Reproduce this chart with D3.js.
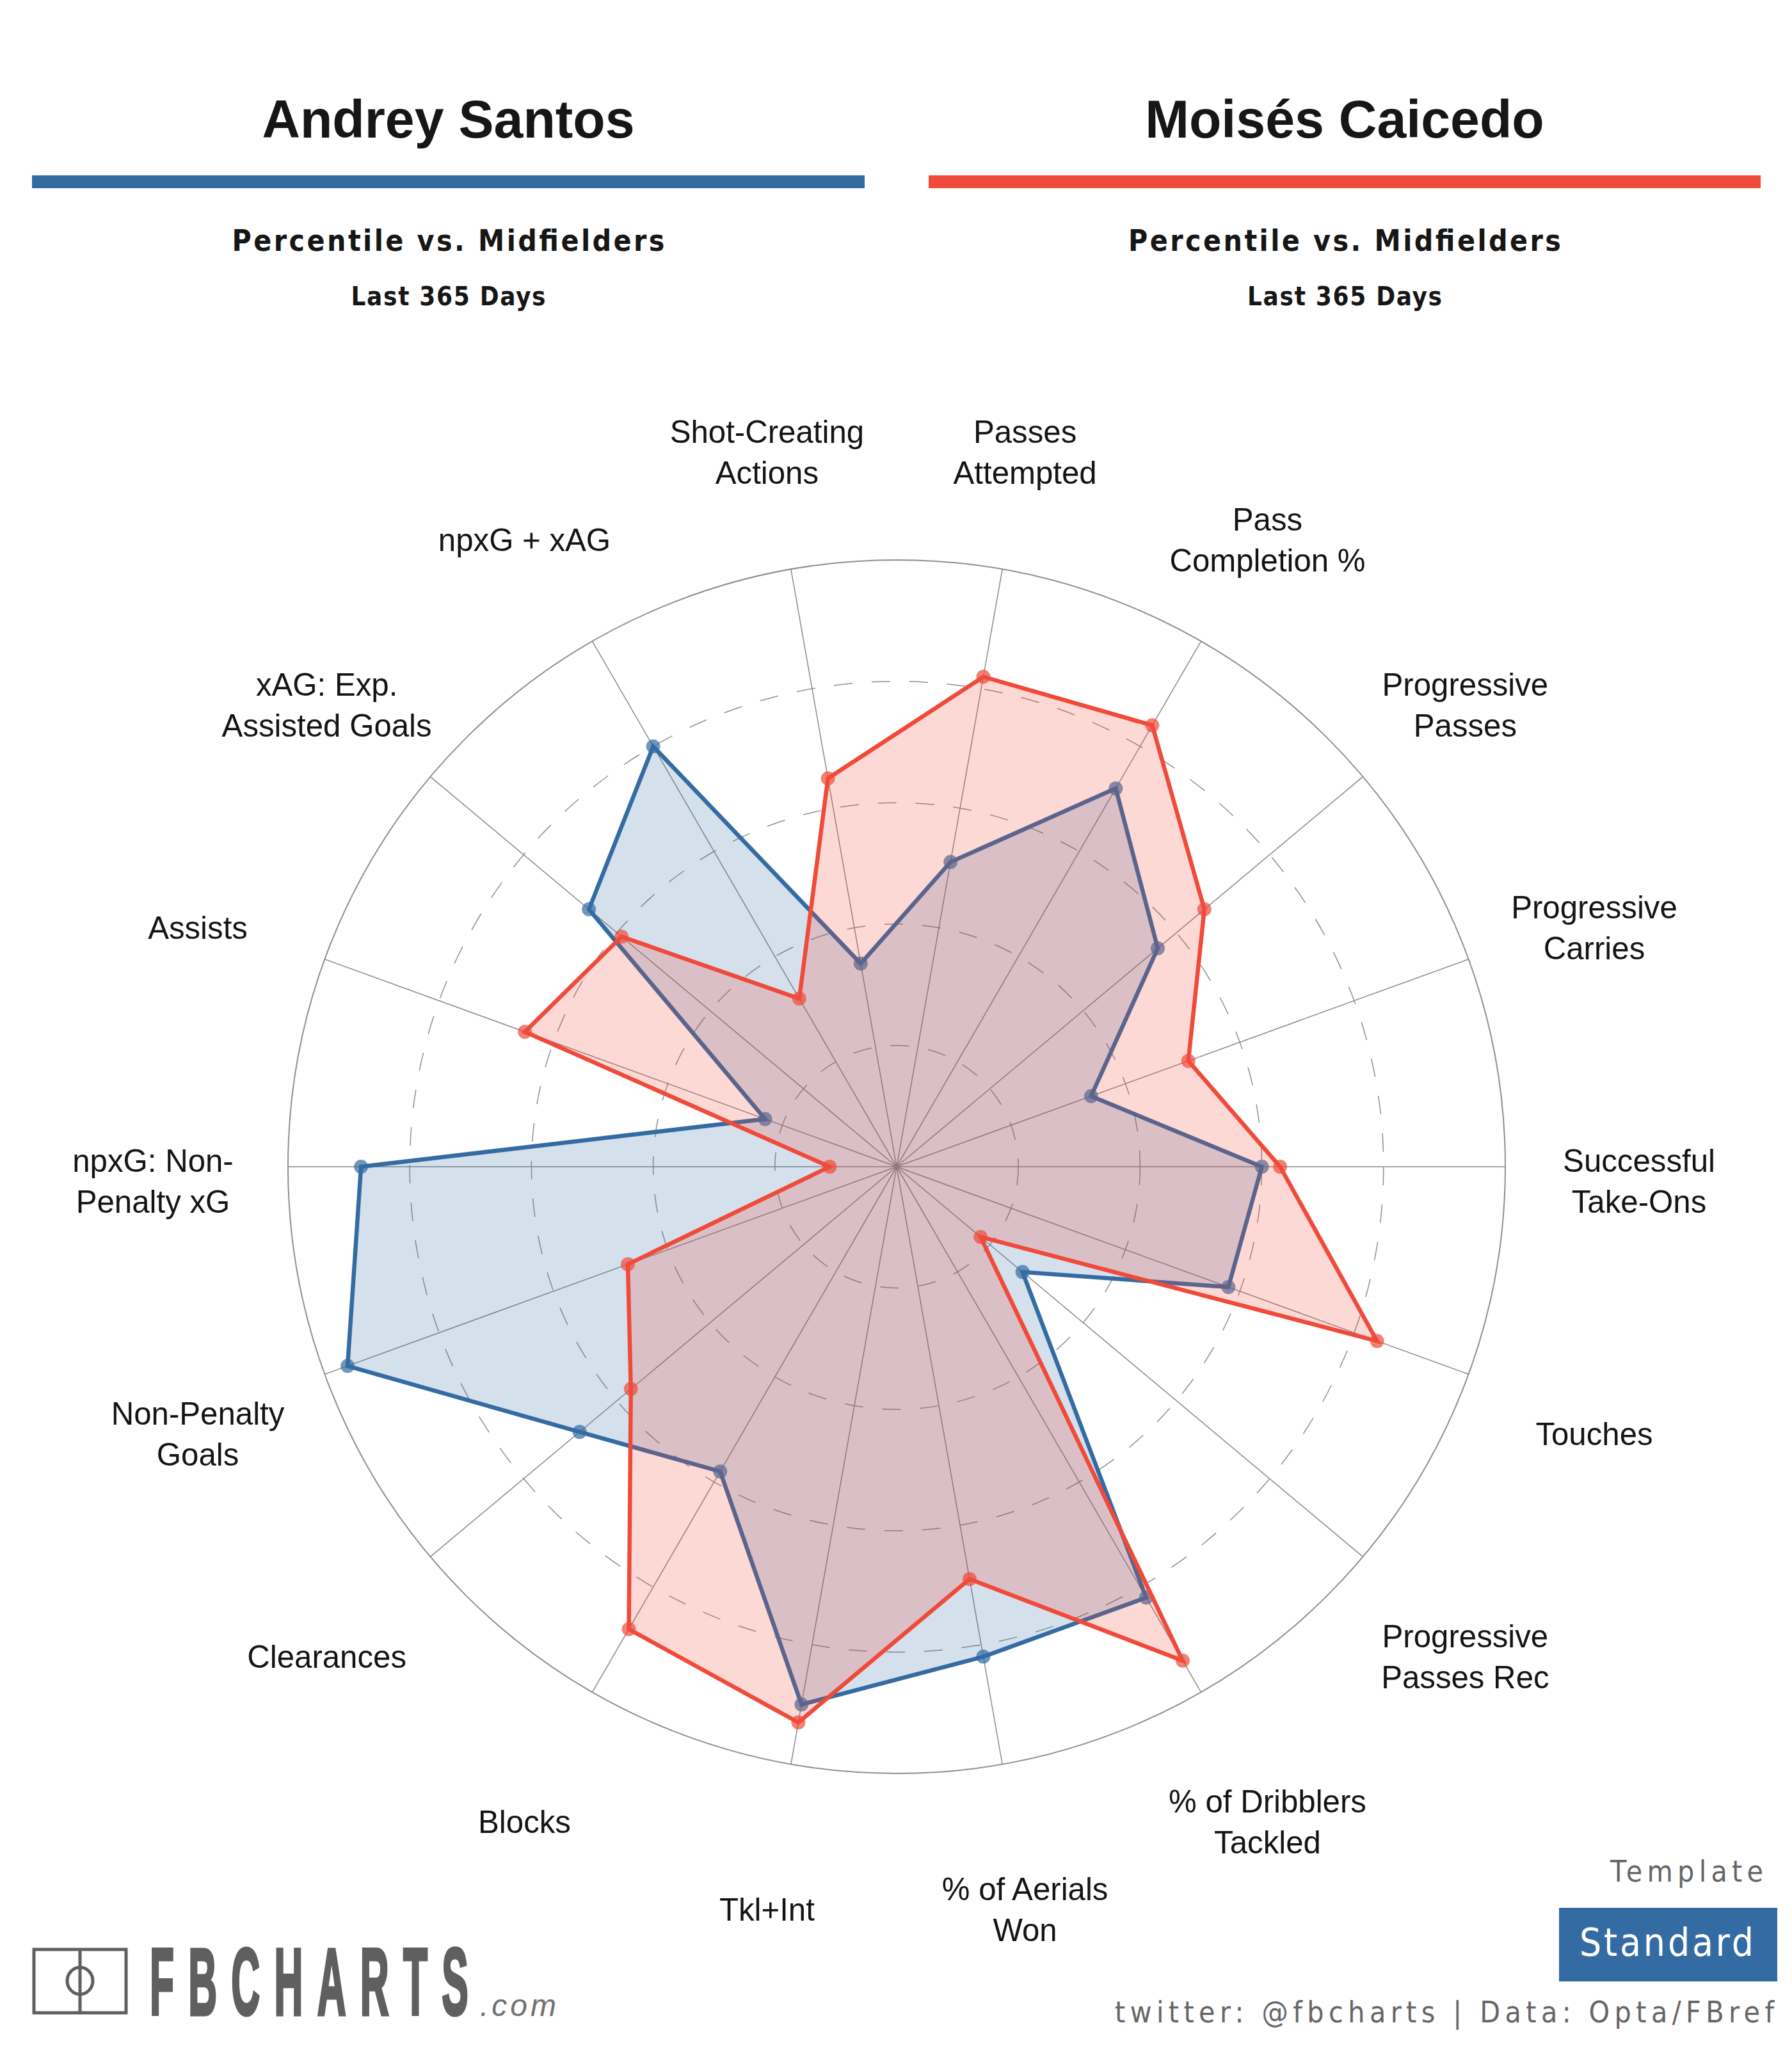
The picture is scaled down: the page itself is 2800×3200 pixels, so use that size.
<!DOCTYPE html>
<html><head><meta charset="utf-8">
<script src="https://cdn.jsdelivr.net/npm/d3@7/dist/d3.min.js"></script>
<style>html,body{margin:0;padding:0;background:#fff}svg{display:block}</style>
</head><body><div id="c"></div>
<script>
const metrics = [["Successful","Take-Ons"],["Progressive","Carries"],["Progressive","Passes"],["Pass","Completion %"],["Passes","Attempted"],["Shot-Creating","Actions"],["npxG + xAG"],["xAG: Exp.","Assisted Goals"],["Assists"],["npxG: Non-","Penalty xG"],["Non-Penalty","Goals"],["Clearances"],["Blocks"],["Tkl+Int"],["% of Aerials","Won"],["% of Dribblers","Tackled"],["Progressive","Passes Rec"],["Touches"]];
const santos = [60,34,56,72,51,34,80,66,23,88,96,68,58,90,82,82,27,58];
const caicedo = [63,51,66,84,82,65,32,59,65,11,47,57,88,93,69,94,18,84];
const playerNames = ["Andrey Santos","Moisés Caicedo"];
const playerColors = ["#356BA3","#F04A3A"];
const gridTicks = [20,40,60,80];

const W=2800,H=3200,cx=1401,cy=1823,Rx=951,Ry=948,labelRx=1161,labelRy=1156.5;
const svg=d3.select("#c").append("svg").attr("width",W).attr("height",H).attr("viewBox",`0 0 ${W} ${H}`);
svg.append("rect").attr("width",W).attr("height",H).attr("fill","#fff");
const sans="'Liberation Sans',Arial,sans-serif", deja="'DejaVu Sans','Open Sans',sans-serif";
const rx=d3.scaleLinear().domain([0,100]).range([0,Rx]);
const ry=d3.scaleLinear().domain([0,100]).range([0,Ry]);
const ang=d3.scaleLinear().domain([0,metrics.length]).range([0,360]);
const px=(i,v)=>cx+rx(v)*Math.cos(ang(i)*Math.PI/180);
const py=(i,v)=>cy-ry(v)*Math.sin(ang(i)*Math.PI/180);
const cond=t=>t.attr("font-family",deja).style("font-stretch","condensed").attr("lengthAdjust","spacing");

// headers
const headers=[{x0:50,x1:1351},{x0:1451,x1:2751}];
headers.forEach((h,i)=>{
  const mid=(h.x0+h.x1)/2;
  svg.append("text").attr("x",mid).attr("y",215).attr("text-anchor","middle").attr("font-family",sans).attr("font-weight",700).attr("font-size",82.5).attr("fill","#161616").text(playerNames[i]);
  svg.append("rect").attr("x",h.x0).attr("y",274).attr("width",h.x1-h.x0).attr("height",20).attr("fill",playerColors[i]);
  cond(svg.append("text")).attr("x",mid).attr("y",392).attr("text-anchor","middle").attr("font-weight",700).attr("font-size",46).attr("textLength",676).attr("fill","#161616").text("Percentile vs. Midfielders");
  cond(svg.append("text")).attr("x",mid).attr("y",477).attr("text-anchor","middle").attr("font-weight",700).attr("font-size",40).attr("textLength",304).attr("fill","#161616").text("Last 365 Days");
});

// grid
svg.append("g").selectAll("ellipse").data(gridTicks).join("ellipse").attr("cx",cx).attr("cy",cy).attr("rx",d=>rx(d)).attr("ry",d=>ry(d)).attr("fill","none").attr("stroke","#8f8f8f").attr("stroke-width",1.5).attr("stroke-dasharray","29 30");
svg.append("ellipse").attr("cx",cx).attr("cy",cy).attr("rx",Rx).attr("ry",Ry).attr("fill","none").attr("stroke","#8f8f8f").attr("stroke-width",2);
svg.append("g").selectAll("line").data(metrics).join("line").attr("x1",cx).attr("y1",cy).attr("x2",(d,i)=>px(i,100)).attr("y2",(d,i)=>py(i,100)).attr("stroke","#8a8a8a").attr("stroke-width",1.5);

// radars
const radarLine=d3.line().x(d=>d.x).y(d=>d.y).curve(d3.curveLinearClosed);
[santos,caicedo].forEach((vals,s)=>{
  const pts=vals.map((v,i)=>({x:px(i,v),y:py(i,v)}));
  const g=svg.append("g");
  g.append("path").attr("d",radarLine(pts)).attr("fill",playerColors[s]).attr("fill-opacity",0.21).attr("stroke",playerColors[s]).attr("stroke-width",6.5).attr("stroke-linejoin","miter");
  g.selectAll("circle").data(pts).join("circle").attr("cx",d=>d.x).attr("cy",d=>d.y).attr("r",11).attr("fill",playerColors[s]).attr("fill-opacity",0.7);
});

// labels
metrics.forEach((lines,i)=>{
  const a=ang(i)*Math.PI/180, x=cx-1+labelRx*Math.cos(a), y=cy+22.5-labelRy*Math.sin(a);
  const lh=64, t=svg.append("text").attr("text-anchor","middle").attr("font-family",sans).attr("font-size",49.2).attr("fill","#141414");
  lines.forEach((ln,k)=>t.append("tspan").attr("x",x).attr("y",y+(k-(lines.length-1)/2)*lh+17).text(ln));
});

// logo
const logo=svg.append("g").attr("stroke","#5f5f5f").attr("fill","none").attr("stroke-width",5);
logo.append("rect").attr("x",53).attr("y",3046).attr("width",144).attr("height",99);
logo.append("line").attr("x1",125).attr("x2",125).attr("y1",3046).attr("y2",3145);
logo.append("ellipse").attr("cx",125).attr("cy",3095).attr("rx",20).attr("ry",21);
svg.append("text").attr("x",0).attr("y",0).attr("transform","translate(234,3148) scale(0.42,1)").attr("font-family",sans).attr("font-weight",700).attr("font-size",148).attr("letter-spacing",53).attr("fill","#5f5f5f").attr("stroke","#5f5f5f").attr("stroke-width",5).text("FBCHARTS");
svg.append("text").attr("x",750).attr("y",3150).attr("font-family",sans).attr("font-style","italic").attr("font-size",48).attr("textLength",119).attr("lengthAdjust","spacing").attr("fill","#707070").text(".com");

// template
cond(svg.append("text")).attr("x",2516).attr("y",2940).attr("font-size",46).attr("textLength",239).attr("fill","#666").text("Template");
svg.append("rect").attr("x",2436).attr("y",2981).attr("width",341).attr("height",115).attr("fill",playerColors[0]);
cond(svg.append("text")).attr("x",2468).attr("y",3056).attr("font-size",60).attr("textLength",272).attr("fill","#fff").text("Standard");
cond(svg.append("text")).attr("x",1742).attr("y",3160).attr("font-size",46).attr("textLength",1030).attr("fill","#666").text("twitter: @fbcharts | Data: Opta/FBref");
</script></body></html>
